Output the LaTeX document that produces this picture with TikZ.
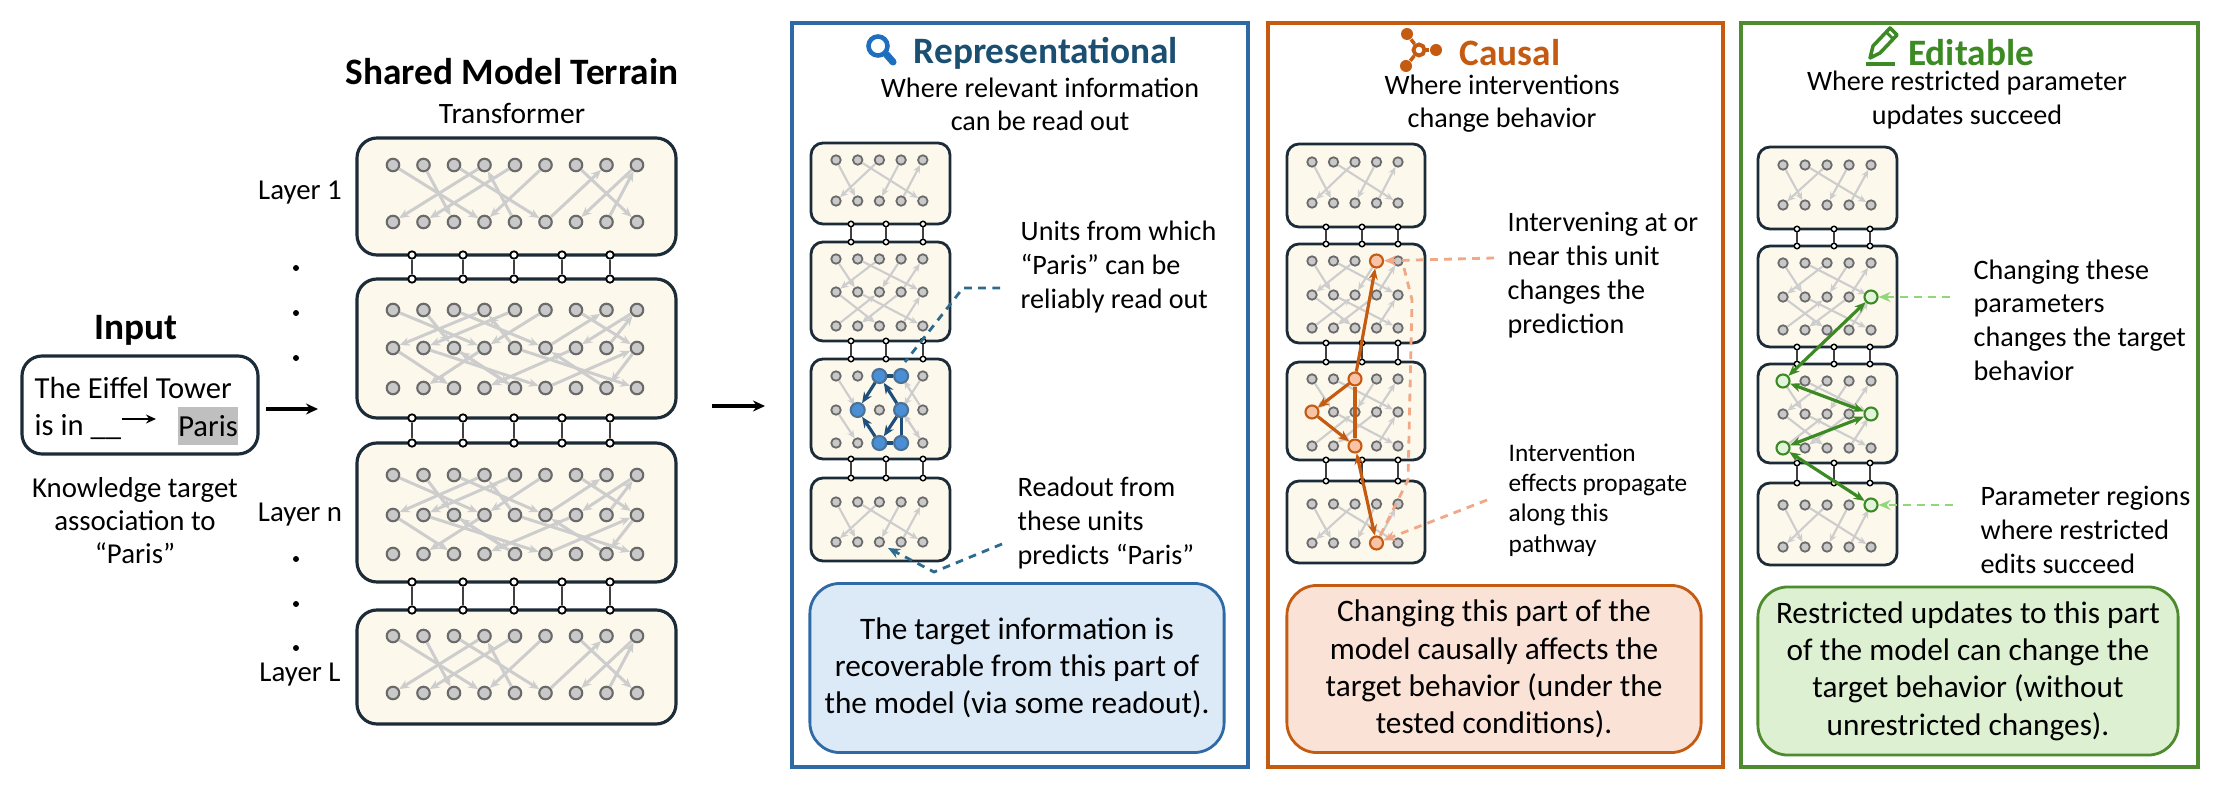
\documentclass[tikz,border=0pt]{standalone}
\usepackage{fontspec}
\setmainfont{Carlito}
\usetikzlibrary{arrows.meta}
\definecolor{blkd}{HTML}{1C2B38}
\definecolor{blkf}{HTML}{FDF8EC}
\definecolor{ugf}{HTML}{C9C9C9}
\definecolor{ugd}{HTML}{6A6A6A}
\definecolor{garc}{HTML}{CDCDCD}
\definecolor{repB}{HTML}{2E6BA6}
\definecolor{repT}{HTML}{1B4F72}
\definecolor{repI}{HTML}{1F6FBF}
\definecolor{repF}{HTML}{DCE9F6}
\definecolor{bluN}{HTML}{4A8FD6}
\definecolor{bluD}{HTML}{1F4E79}
\definecolor{leadB}{HTML}{2E6A8E}
\definecolor{cauB}{HTML}{C55A11}
\definecolor{cauF}{HTML}{FBE2D6}
\definecolor{cauN}{HTML}{F8C3A6}
\definecolor{cauL}{HTML}{F0A886}
\definecolor{edB}{HTML}{4E8A2E}
\definecolor{edT}{HTML}{3C8A24}
\definecolor{edF}{HTML}{DDF0D2}
\definecolor{edN}{HTML}{E2F5DA}
\definecolor{edL}{HTML}{92D67A}
\tikzset{
 x=0.01cm,y=-0.01cm,
 unit/.style={circle,draw=ugd,fill=ugf,line width=0.6pt,minimum size=1.25mm,inner sep=0pt},
 munit/.style={circle,draw=ugd,fill=ugf,line width=0.5pt,minimum size=0.95mm,inner sep=0pt},
 garr/.style={draw=garc,line width=0.85pt,-{Stealth[length=1mm,width=0.85mm]}},
 mgarr/.style={draw=garc,line width=0.6pt,-{Stealth[length=0.8mm,width=0.7mm]}},
 blk/.style={draw=blkd,fill=blkf,line width=0.9pt,rounded corners=2mm},
 mblkst/.style={draw=blkd,fill=blkf,line width=0.8pt,rounded corners=1.2mm},
 port/.style={circle,draw=black,fill=white,line width=0.5pt,minimum size=0.75mm,inner sep=0pt},
 mport/.style={circle,draw=black,fill=white,line width=0.4pt,minimum size=0.55mm,inner sep=0pt},
 cline/.style={draw=black!75,line width=0.6pt},
 lbl/.style={font=\fontsize{8.2}{9.4}\selectfont,inner sep=0pt},
 ann/.style={font=\fontsize{8}{9.6}\selectfont,align=left,anchor=west,inner sep=0pt},
 sub/.style={font=\fontsize{8}{9.4}\selectfont,align=center,inner sep=0pt},
 ttl/.style={font=\fontsize{10.6}{11}\selectfont\bfseries,inner sep=0pt},
 bbx/.style={rounded corners=3mm,line width=0.8pt,align=center,inner sep=0pt,font=\fontsize{8.9}{10.6}\selectfont},
 panel/.style={line width=1pt},
 bunit/.style={circle,draw=bluD!80,fill=bluN,line width=0.6pt,minimum size=1.4mm,inner sep=0pt},
 ounit/.style={circle,draw=cauB,fill=cauN,line width=0.6pt,minimum size=1.3mm,inner sep=0pt},
 eunit/.style={circle,draw=edT,fill=edN,line width=0.6pt,minimum size=1.3mm,inner sep=0pt},
 harr/.style={line width=0.9pt,-{Stealth[length=1.1mm,width=0.9mm]}},
 dlead/.style={dash pattern=on 2.2pt off 1.8pt,line width=0.8pt},
}
\newcommand\bigblk[6]{% prefix, y1, y2, rows, x1, x2
 \draw[blk] (#5,#2) rectangle (#6,#3);
 \foreach \yy [count=\r] in {#4} {\foreach \c in {1,...,9} {\node[unit] (#1-\r-\c) at ({393+(\c-1)*30.5},\yy) {};}}}
\newcommand\minblk[8]{% prefix, x1,y1,x2,y2,x0,dx,rows
 \draw[mblkst] (#2,#3) rectangle (#4,#5);
 \foreach \yy [count=\r] in {#8} {\foreach \c in {1,...,5} {\node[munit] (#1-\r-\c) at ({#6+(\c-1)*#7},\yy) {};}}}
\newcommand\gedges[3]{\foreach \ra/\ca/\rb/\cb in #3 {\draw[#1] (#2-\ra-\ca) -- (#2-\rb-\cb);}}
\newcommand\conn[5]{% prefix, style, xlist, y1, y2
 \foreach \xx [count=\i] in {#3} {\node[#2] (#1a\i) at (\xx,#4) {}; \node[#2] (#1b\i) at (\xx,#5) {}; \draw[cline] (#1a\i) -- (#1b\i);}}
\def\Ea{1/1/2/4, 1/2/2/3, 1/4/2/1, 1/5/2/2, 2/5/1/4, 1/3/2/6, 2/6/1/8, 1/7/2/9, 1/9/2/7, 2/8/1/9, 1/6/2/4}
\def\Eb{2/1/3/3, 2/3/3/5, 2/4/3/2, 3/5/2/3, 2/2/3/6, 3/6/2/9, 2/7/3/4, 2/9/3/8, 3/8/2/6, 2/5/3/9}
\def\Ma{1/1/2/2, 1/3/2/1, 1/4/2/3, 2/4/1/5, 1/2/2/5}
\def\Mb{2/1/3/3, 2/4/3/2, 3/4/2/5, 2/2/3/5, 3/1/2/3}
\def\Mc{1/1/2/2, 2/5/1/4, 1/5/2/4, 2/1/3/2, 3/5/2/4, 2/4/3/5}
\begin{document}
\begin{tikzpicture}
\useasboundingbox (0,0) rectangle (2218,788);
\fill[white] (0,0) rectangle (2218,788);
% ---------- Input ----------
\node[ttl] (intitle) at (136,330) {Input};
\draw[line width=0.9pt,draw=blkd,rounded corners=2mm] (22,356) rectangle (258,454);
\node[anchor=west,inner sep=0pt,font=\fontsize{8.7}{10}\selectfont] (eif1) at (34,388) {The Eiffel Tower};
\node[anchor=west,inner sep=0pt,font=\fontsize{8.7}{10}\selectfont] (eif2) at (34,427) {is in \_\_};
\node[fill=black!25,minimum width=0.6cm,minimum height=0.38cm,inner sep=0pt,font=\fontsize{8.7}{10}\selectfont] (paris) at (208,426) {Paris};
\coordinate (ia1) at (122,419); \coordinate (ia2) at (156,419);
\draw[line width=0.8pt,-{Stealth[length=1mm,width=0.9mm]}] (ia1) -- (ia2);
\node[lbl,align=center] (know) at (135,521) {Knowledge target\\association to\\“Paris”};
\coordinate (a1s) at (266,409); \coordinate (a1e) at (318,409);
\draw[line width=1.1pt,-{Stealth[length=1.2mm,width=1.1mm]}] (a1s) -- (a1e);
% ---------- Shared model ----------
\node[ttl] (smt) at (512,72) {Shared Model Terrain};
\node[lbl,font=\fontsize{8.4}{9}\selectfont] (trf) at (512,113) {Transformer};
\bigblk{L1}{138}{255}{165,222}{357}{676}
\bigblk{L2}{279}{418}{310,348,388}{357}{676}
\bigblk{L3}{443}{582}{475,515,554}{357}{676}
\bigblk{L4}{610}{724}{636,693}{357}{676}
\gedges{garr}{L1}{\Ea}
\gedges{garr}{L2}{\Ea}\gedges{garr}{L2}{\Eb}
\gedges{garr}{L3}{\Ea}\gedges{garr}{L3}{\Eb}
\gedges{garr}{L4}{\Ea}
\conn{c12}{port}{412,463,514,562,610}{255}{279}
\conn{c23}{port}{412,463,514,562,610}{418}{443}
\conn{c34}{port}{412,463,514,562,610}{582}{610}
\node[lbl] (ly1) at (300,193) {Layer 1};
\node[lbl] (lyn) at (300,515) {Layer n};
\node[lbl] (lyL) at (300,675) {Layer L};
\foreach \yy [count=\i] in {268,313,358,559,604,648} {\node[circle,fill=black,inner sep=0pt,minimum size=0.6mm] (dot\i) at (296,\yy) {};}
\coordinate (a2s) at (712,406); \coordinate (a2e) at (765,406);
\draw[line width=1.1pt,-{Stealth[length=1.2mm,width=1.1mm]}] (a2s) -- (a2e);
% ---------- Representational ----------
\draw[panel,draw=repB] (792,23) rectangle (1248,767);
\node[ttl,text=repT] (rtitle) at (1046,53) {Representational};
\node[circle,draw=repI,line width=1.3pt,minimum size=1.9mm,inner sep=0pt] (mag) at (878,46) {};
\coordinate (magh) at (893,62);
\draw[repI,line width=2pt,line cap=round] (mag.south east) -- (magh);
\node[sub] (rsub) at (1040,104) {Where relevant information\\can be read out};
\minblk{RA}{811}{143}{950}{224}{836}{21.7}{160,201}
\minblk{RB}{811}{242}{950}{341}{836}{21.7}{259,292,326}
\minblk{RC}{811}{359}{950}{459}{836}{21.7}{376,410,443}
\minblk{RD}{811}{478}{950}{561}{836}{21.7}{502,542}
\gedges{mgarr}{RA}{\Ma}
\gedges{mgarr}{RB}{\Ma}\gedges{mgarr}{RB}{\Mb}
\gedges{mgarr}{RC}{\Mc}
\gedges{mgarr}{RD}{\Ma}
\conn{rc1}{mport}{851,886,923}{224}{242}
\conn{rc2}{mport}{851,886,923}{341}{359}
\conn{rc3}{mport}{851,886,923}{459}{478}
\node[bunit] (b1) at (RC-1-3) {};
\node[bunit] (b2) at (RC-1-4) {};
\node[bunit] (b3) at (RC-2-2) {};
\node[bunit] (b4) at (RC-2-4) {};
\node[bunit] (b5) at (RC-3-3) {};
\node[bunit] (b6) at (RC-3-4) {};
\draw[bluD,line width=0.9pt] (b1) -- (b2);
\draw[bluD,harr] (b1) -- (b3);
\draw[bluD,harr] (b4) -- (b1);
\draw[bluD,harr] (b5) -- (b3);
\draw[bluD,harr] (b4) -- (b5);
\draw[bluD,line width=0.9pt] (b4) -- (b6);
\draw[bluD,line width=0.9pt] (b5) -- (b6);
\node[ann] (runits) at (1020,267) {Units from which\\“Paris” can be\\reliably read out};
\coordinate (rl1) at (1000,288); \coordinate (rl2) at (963,288); \coordinate (rl3) at (905,362);
\draw[leadB,dlead] (rl1) -- (rl2) -- (rl3);
\node[ann] (rread) at (1017,523) {Readout from\\these units\\predicts “Paris”};
\coordinate (rr1) at (1002,544); \coordinate (rr2) at (934,572); \coordinate (rr3) at (888,548);
\draw[leadB,dlead,-{Stealth[length=1.2mm,width=1mm]}] (rr1) -- (rr2) -- (rr3);
\node[bbx,draw=repB,fill=repF,minimum width=4.14cm,minimum height=1.69cm] (rbox) at (1017,668) {The target information is\\recoverable from this part of\\the model (via some readout).};
% ---------- Causal ----------
\draw[panel,draw=cauB] (1268,23) rectangle (1723,767);
\node[ttl,text=cauB] (ctitle) at (1510,53) {Causal};
\node[circle,draw=cauB,line width=1.1pt,minimum size=1.1mm,inner sep=0pt] (ci0) at (1419,50) {};
\node[circle,fill=cauB,minimum size=1.2mm,inner sep=0pt] (ci1) at (1407,34) {};
\node[circle,fill=cauB,minimum size=1.2mm,inner sep=0pt] (ci2) at (1406,66) {};
\node[circle,fill=cauB,minimum size=1.2mm,inner sep=0pt] (ci3) at (1436,50) {};
\draw[cauB,line width=1pt] (ci0) -- (ci1); \draw[cauB,line width=1pt] (ci0) -- (ci2); \draw[cauB,line width=1pt] (ci0) -- (ci3);
\node[sub] (csub) at (1502,104) {Where interventions\\change behavior};
\minblk{CA}{1287}{144}{1425}{227}{1312}{21.5}{162,203}
\minblk{CB}{1287}{244}{1425}{343}{1312}{21.5}{261,295,328}
\minblk{CC}{1287}{362}{1425}{460}{1312}{21.5}{379,412,446}
\minblk{CD}{1287}{481}{1425}{563}{1312}{21.5}{504,543}
\gedges{mgarr}{CA}{\Ma}
\gedges{mgarr}{CB}{\Ma}\gedges{mgarr}{CB}{\Mb}
\gedges{mgarr}{CC}{\Ma}\gedges{mgarr}{CC}{\Mb}
\gedges{mgarr}{CD}{\Ma}
\conn{cc1}{mport}{1326,1362,1398}{227}{244}
\conn{cc2}{mport}{1326,1362,1398}{343}{362}
\conn{cc3}{mport}{1326,1362,1398}{460}{481}
\node[ounit] (o1) at (CB-1-4) {};
\node[ounit] (o2) at (CC-1-3) {};
\node[ounit] (o3) at (CC-2-1) {};
\node[ounit] (o4) at (CC-3-3) {};
\node[ounit] (o5) at (CD-2-4) {};
\draw[cauB,harr] (o2) -- (o1);
\draw[cauB,harr] (o2) -- (o3);
\draw[cauB,harr] (o3) -- (o4);
\draw[cauB,line width=0.9pt] (o2) -- (o4);
\draw[cauB,line width=0.9pt,{Stealth[length=1.1mm,width=0.9mm]}-{Stealth[length=1.1mm,width=0.9mm]}] (o4) -- (o5);
\node[ann] (ctext1) at (1507,275) {Intervening at or\\near this unit\\changes the\\prediction};
\coordinate (cl1) at (1494,258);
\draw[cauL,dlead,-{Stealth[length=1.2mm,width=1mm]}] (cl1) -- (o1);
\coordinate (cv1) at (1404,268); \coordinate (cv2) at (1412,300); \coordinate (cv3) at (1408,480);
\draw[cauL,dlead] (cv1) -- (cv2) -- (cv3) -- (o5);
\node[ann,font=\fontsize{7.2}{8.6}\selectfont] (ctext2) at (1508,500) {Intervention\\effects propagate\\along this\\pathway};
\coordinate (cl2) at (1487,500);
\draw[cauL,dlead,-{Stealth[length=1.2mm,width=1mm]}] (cl2) -- (o5);
\node[bbx,draw=cauB,fill=cauF,minimum width=4.14cm,minimum height=1.67cm] (cbox) at (1494,669) {Changing this part of the\\model causally affects the\\target behavior (under the\\tested conditions).};
% ---------- Editable ----------
\draw[panel,draw=edB] (1741,23) rectangle (2198,767);
\node[ttl,text=edT] (etitle) at (1971,53) {Editable};
\draw[edT,line width=1pt,line join=round] (1870,58) -- (1873,46) -- (1890,28) -- (1897,35) -- (1880,53) -- cycle;
\draw[edT,line width=0.8pt] (1886,32) -- (1893,39);
\coordinate (pu1) at (1866,64); \coordinate (pu2) at (1895,64);
\draw[edT,line width=1.2pt] (pu1) -- (pu2);
\node[sub] (esub) at (1967,100) {Where restricted parameter\\updates succeed};
\minblk{EA}{1758}{147}{1897}{229}{1783}{22}{165,205}
\minblk{EB}{1758}{246}{1897}{347}{1783}{22}{263,297,330}
\minblk{EC}{1758}{364}{1897}{463}{1783}{22}{381,414,448}
\minblk{ED}{1758}{483}{1897}{565}{1783}{22}{505,547}
\gedges{mgarr}{EA}{\Ma}
\gedges{mgarr}{EB}{\Ma}\gedges{mgarr}{EB}{\Mb}
\gedges{mgarr}{EC}{\Ma}\gedges{mgarr}{EC}{\Mb}
\gedges{mgarr}{ED}{\Ma}
\conn{ec1}{mport}{1797,1834,1870}{229}{246}
\conn{ec2}{mport}{1797,1834,1870}{347}{364}
\conn{ec3}{mport}{1797,1834,1870}{463}{483}
\node[eunit] (g1) at (EB-2-5) {};
\node[eunit] (g2) at (EC-1-1) {};
\node[eunit] (g3) at (EC-2-5) {};
\node[eunit] (g4) at (EC-3-1) {};
\node[eunit] (g5) at (ED-1-5) {};
\tikzset{ebi/.style={edT,line width=0.9pt,{Stealth[length=1.1mm,width=0.9mm]}-{Stealth[length=1.1mm,width=0.9mm]}}}
\draw[ebi] (g2) -- (g1);
\draw[ebi] (g2) -- (g3);
\draw[ebi] (g3) -- (g4);
\draw[ebi] (g4) -- (g5);
\node[ann] (etext1) at (1973,320) {Changing these\\parameters\\changes the target\\behavior};
\coordinate (el1) at (1950,297);
\draw[edL,dlead,-{Stealth[length=1.2mm,width=1mm]}] (el1) -- (g1);
\node[ann] (etext2) at (1980,530) {Parameter regions\\where restricted\\edits succeed};
\coordinate (el2) at (1953,505);
\draw[edL,dlead,-{Stealth[length=1.2mm,width=1mm]}] (el2) -- (g5);
\node[bbx,draw=edB,fill=edF,minimum width=4.2cm,minimum height=1.68cm] (ebox) at (1968,671) {Restricted updates to this part\\of the model can change the\\target behavior (without\\unrestricted changes).};
\end{tikzpicture}
\end{document}
